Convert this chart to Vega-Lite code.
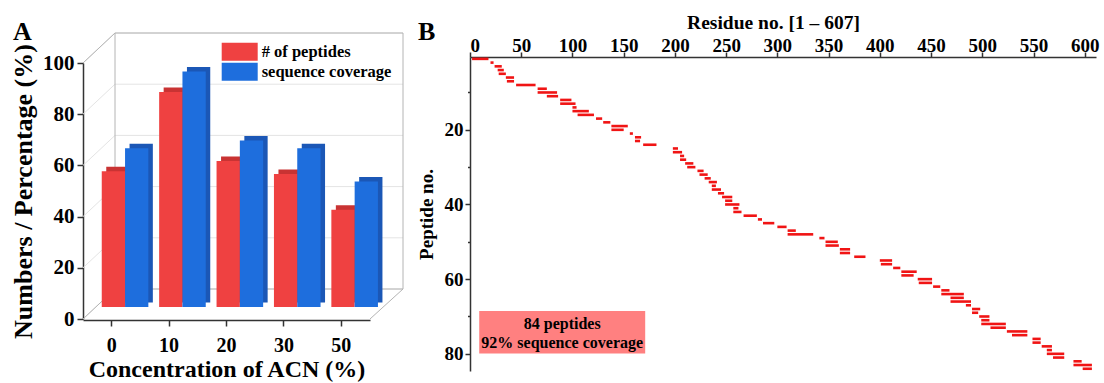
{
  "$schema": "https://vega.github.io/schema/vega-lite/v6.json",
  "autosize": {"type": "none"},
  "padding": {"left": 83, "top": 57, "right": 1021, "bottom": 326},
  "background": "white",
  "datasets": {
    "bars": [
      {"conc": "0", "series": "# of peptides", "value": 53},
      {"conc": "10", "series": "# of peptides", "value": 84},
      {"conc": "20", "series": "# of peptides", "value": 57},
      {"conc": "30", "series": "# of peptides", "value": 52},
      {"conc": "50", "series": "# of peptides", "value": 38},
      {"conc": "0", "series": "sequence coverage", "value": 62},
      {"conc": "10", "series": "sequence coverage", "value": 92},
      {"conc": "20", "series": "sequence coverage", "value": 65},
      {"conc": "30", "series": "sequence coverage", "value": 62},
      {"conc": "50", "series": "sequence coverage", "value": 49}
    ],
    "grid": [{"v": 0}, {"v": 20}, {"v": 40}, {"v": 60}, {"v": 80}, {"v": 100}],
    "peptides": [
      {"pep": 1, "start": 2, "end": 18}, {"pep": 2, "start": 20, "end": 23}, {"pep": 3, "start": 24, "end": 31},
      {"pep": 4, "start": 27, "end": 33}, {"pep": 5, "start": 28, "end": 35}, {"pep": 6, "start": 35, "end": 43},
      {"pep": 7, "start": 36, "end": 43}, {"pep": 8, "start": 45, "end": 64}, {"pep": 9, "start": 66, "end": 75},
      {"pep": 10, "start": 66, "end": 85}, {"pep": 11, "start": 75, "end": 86}, {"pep": 12, "start": 88, "end": 99},
      {"pep": 13, "start": 88, "end": 103}, {"pep": 14, "start": 100, "end": 104}, {"pep": 15, "start": 100, "end": 116},
      {"pep": 16, "start": 105, "end": 121}, {"pep": 17, "start": 123, "end": 129}, {"pep": 18, "start": 130, "end": 137},
      {"pep": 19, "start": 138, "end": 154}, {"pep": 20, "start": 138, "end": 150}, {"pep": 21, "start": 156, "end": 159},
      {"pep": 22, "start": 161, "end": 167}, {"pep": 23, "start": 161, "end": 166}, {"pep": 24, "start": 169, "end": 182},
      {"pep": 25, "start": 198, "end": 203}, {"pep": 26, "start": 198, "end": 207}, {"pep": 27, "start": 205, "end": 209},
      {"pep": 28, "start": 205, "end": 211}, {"pep": 29, "start": 210, "end": 218}, {"pep": 30, "start": 212, "end": 220},
      {"pep": 31, "start": 222, "end": 228}, {"pep": 32, "start": 224, "end": 232}, {"pep": 33, "start": 229, "end": 235},
      {"pep": 34, "start": 233, "end": 241}, {"pep": 35, "start": 236, "end": 240}, {"pep": 36, "start": 236, "end": 245},
      {"pep": 37, "start": 242, "end": 248}, {"pep": 38, "start": 246, "end": 256}, {"pep": 39, "start": 249, "end": 256},
      {"pep": 40, "start": 249, "end": 263}, {"pep": 41, "start": 257, "end": 262}, {"pep": 42, "start": 257, "end": 265},
      {"pep": 43, "start": 267, "end": 280}, {"pep": 44, "start": 281, "end": 285}, {"pep": 45, "start": 286, "end": 297},
      {"pep": 46, "start": 300, "end": 309}, {"pep": 47, "start": 310, "end": 318}, {"pep": 48, "start": 310, "end": 335},
      {"pep": 49, "start": 341, "end": 346}, {"pep": 50, "start": 347, "end": 359}, {"pep": 51, "start": 347, "end": 360},
      {"pep": 52, "start": 361, "end": 371}, {"pep": 53, "start": 361, "end": 371}, {"pep": 54, "start": 375, "end": 386},
      {"pep": 55, "start": 400, "end": 412}, {"pep": 56, "start": 401, "end": 412}, {"pep": 57, "start": 413, "end": 420},
      {"pep": 58, "start": 421, "end": 436}, {"pep": 59, "start": 421, "end": 433}, {"pep": 60, "start": 437, "end": 451},
      {"pep": 61, "start": 438, "end": 451}, {"pep": 62, "start": 452, "end": 459}, {"pep": 63, "start": 460, "end": 468},
      {"pep": 64, "start": 460, "end": 482}, {"pep": 65, "start": 469, "end": 482}, {"pep": 66, "start": 469, "end": 489},
      {"pep": 67, "start": 484, "end": 489}, {"pep": 68, "start": 490, "end": 498}, {"pep": 69, "start": 490, "end": 496},
      {"pep": 70, "start": 497, "end": 507}, {"pep": 71, "start": 499, "end": 507}, {"pep": 72, "start": 499, "end": 523},
      {"pep": 73, "start": 508, "end": 523}, {"pep": 74, "start": 524, "end": 544}, {"pep": 75, "start": 529, "end": 544},
      {"pep": 76, "start": 549, "end": 557}, {"pep": 77, "start": 549, "end": 557}, {"pep": 78, "start": 558, "end": 568},
      {"pep": 79, "start": 563, "end": 568}, {"pep": 80, "start": 563, "end": 580}, {"pep": 81, "start": 569, "end": 580},
      {"pep": 82, "start": 589, "end": 597}, {"pep": 83, "start": 589, "end": 607}, {"pep": 84, "start": 598, "end": 607}
    ]
  },
  "spacing": 100,
  "bounds": "flush",
  "hconcat": [
    {
      "width": 287,
      "height": 263,
      "layer": [
        {
          "layer": [
            {
              "data": {"name": "grid"},
              "mark": {"type": "rule", "color": "#e4e4e4", "strokeWidth": 1, "yOffset": -30},
              "encoding": {
                "x": {"datum": 0.1115, "type": "quantitative", "scale": {"domain": [0, 1], "nice": false, "zero": false}, "axis": null},
                "x2": {"datum": 1.115},
                "y": {"field": "v", "type": "quantitative", "scale": {"domain": [0, 100], "range": [262, 6], "nice": false}}
              }
            },
            {
              "data": {"name": "grid"},
              "mark": {"type": "rule", "color": "#e4e4e4", "strokeWidth": 1, "y2Offset": -30},
              "encoding": {
                "x": {"datum": 0, "type": "quantitative", "axis": null},
                "x2": {"datum": 0.1115},
                "y": {"field": "v", "type": "quantitative"},
                "y2": {"field": "v"}
              }
            },
            {
              "data": {"values": [{}]},
              "mark": {"type": "rule", "color": "#b4b4b4", "strokeWidth": 1, "yOffset": -30, "y2Offset": -30},
              "encoding": {
                "x": {"datum": 0.1115, "type": "quantitative", "axis": null},
                "y": {"datum": 0, "type": "quantitative"},
                "y2": {"datum": 100}
              }
            },
            {
              "data": {"values": [{}]},
              "mark": {"type": "rule", "color": "#b4b4b4", "strokeWidth": 1, "yOffset": -30, "y2Offset": -30},
              "encoding": {
                "x": {"datum": 1.115, "type": "quantitative", "axis": null},
                "y": {"datum": 0, "type": "quantitative"},
                "y2": {"datum": 100}
              }
            },
            {
              "data": {"values": [{}]},
              "mark": {"type": "rule", "color": "#b4b4b4", "strokeWidth": 1, "yOffset": -30},
              "encoding": {
                "x": {"datum": 0.1115, "type": "quantitative", "axis": null},
                "x2": {"datum": 1.115},
                "y": {"datum": 100, "type": "quantitative"}
              }
            },
            {
              "data": {"values": [{}]},
              "mark": {"type": "rule", "color": "#b4b4b4", "strokeWidth": 1, "yOffset": -30},
              "encoding": {
                "x": {"datum": 0.1115, "type": "quantitative", "axis": null},
                "x2": {"datum": 1.115},
                "y": {"datum": 0, "type": "quantitative"}
              }
            },
            {
              "data": {"values": [{}]},
              "mark": {"type": "rule", "color": "#b4b4b4", "strokeWidth": 1, "y2Offset": -30},
              "encoding": {
                "x": {"datum": 0, "type": "quantitative", "axis": null},
                "x2": {"datum": 0.1115},
                "y": {"datum": 100, "type": "quantitative"},
                "y2": {"datum": 100}
              }
            },
            {
              "data": {"values": [{}]},
              "mark": {"type": "rule", "color": "#b4b4b4", "strokeWidth": 1, "y2Offset": -30},
              "encoding": {
                "x": {"datum": 0, "type": "quantitative", "axis": null},
                "x2": {"datum": 0.1115},
                "y": {"datum": 0, "type": "quantitative"},
                "y2": {"datum": 0}
              }
            },
            {
              "data": {"values": [{}]},
              "mark": {"type": "rule", "color": "#b4b4b4", "strokeWidth": 1, "y2Offset": -30},
              "encoding": {
                "x": {"datum": 1, "type": "quantitative", "axis": null},
                "x2": {"datum": 1.115},
                "y": {"datum": 0, "type": "quantitative"},
                "y2": {"datum": 0}
              }
            },
            {
              "data": {"values": [{}]},
              "mark": {"type": "text", "text": "A", "font": "Liberation Serif", "fontWeight": "bold", "fontSize": 26, "align": "left", "baseline": "alphabetic", "color": "#000"},
              "encoding": {
                "x": {"datum": -0.244, "type": "quantitative", "axis": null},
                "y": {"datum": 109, "type": "quantitative"}
              }
            }
          ]
        },
        {
          "data": {"name": "bars"},
          "encoding": {
            "x": {
              "field": "conc", "type": "nominal", "sort": ["0", "10", "20", "30", "50"],
              "scale": {"paddingInner": 0, "paddingOuter": 0},
              "axis": {"title": "Concentration of ACN (%)", "titleFontSize": 24, "labelFontSize": 20, "labelAngle": 0, "tickSize": 6, "labelPadding": 9, "titlePadding": 2}
            },
            "y": {
              "field": "value", "type": "quantitative",
              "scale": {"domain": [0, 100], "range": [262, 6], "nice": false},
              "axis": {
                "title": "Numbers / Percentage (%)", "titleFontSize": 26, "labelFontSize": 21,
                "values": [0, 10, 20, 30, 40, 50, 60, 70, 80, 90, 100],
                "labelExpr": "datum.value % 20 === 0 ? datum.label : ''",
                "tickSize": {"condition": {"test": "datum.value % 20 === 0", "value": 6}, "value": 3.5},
                "labelPadding": 3, "titlePadding": 6
              }
            }
          },
          "layer": [
            {
              "mark": {"type": "bar", "yOffset": -16.5, "y2Offset": -16.5},
              "encoding": {
                "xOffset": {"field": "series", "type": "nominal", "scale": {"paddingInner": 0, "paddingOuter": 0.234, "range": [17.8, 75.3]}},
                "color": {"field": "series", "type": "nominal", "scale": {"domain": ["# of peptides", "sequence coverage"], "range": ["#C93333", "#1B57B6"]}, "legend": null}
              }
            },
            {
              "mark": {"type": "bar", "yOffset": -12, "y2Offset": -12},
              "encoding": {
                "xOffset": {"field": "series", "type": "nominal", "scale": {"paddingInner": 0, "paddingOuter": 0.234, "range": [13.3, 70.8]}},
                "color": {
                  "field": "series", "type": "nominal",
                  "scale": {"domain": ["# of peptides", "sequence coverage"], "range": ["#EF4141", "#1E6EDD"]},
                  "legend": {
                    "orient": "none", "legendX": 147.7, "legendY": -14.3, "title": null, "padding": 0,
                    "symbolType": "M-2,-1H2V1H-2Z", "symbolSize": 324, "symbolStrokeWidth": 0, "symbolOpacity": 1,
                    "labelFont": "Liberation Serif", "labelFontWeight": "bold", "labelFontSize": 16.5, "labelColor": "#000",
                    "labelOffset": 13, "rowPadding": 2
                  }
                }
              }
            }
          ],
          "resolve": {"scale": {"color": "independent", "xOffset": "independent"}}
        }
      ],
      "resolve": {"scale": {"x": "independent"}}
    },
    {
      "width": 626,
      "height": 314,
      "layer": [
        {
          "data": {"values": [{}]},
          "mark": {"type": "rect", "color": "#ff8080"},
          "encoding": {
            "x": {"datum": 9, "type": "quantitative"},
            "x2": {"datum": 171},
            "y": {"datum": 68.5, "type": "quantitative"},
            "y2": {"datum": 79.9}
          }
        },
        {
          "data": {"values": [{}]},
          "mark": {"type": "text", "text": "84 peptides", "font": "Liberation Serif", "fontWeight": "bold", "fontSize": 16, "align": "center", "baseline": "middle", "color": "#000"},
          "encoding": {
            "x": {"datum": 90, "type": "quantitative"},
            "y": {"datum": 71.9, "type": "quantitative"}
          }
        },
        {
          "data": {"values": [{}]},
          "mark": {"type": "text", "text": "92% sequence coverage", "font": "Liberation Serif", "fontWeight": "bold", "fontSize": 16, "align": "center", "baseline": "middle", "color": "#000"},
          "encoding": {
            "x": {"datum": 90, "type": "quantitative"},
            "y": {"datum": 77.2, "type": "quantitative"}
          }
        },
        {
          "data": {"values": [{}]},
          "mark": {"type": "text", "text": "B", "font": "Liberation Serif", "fontWeight": "bold", "fontSize": 26, "align": "left", "baseline": "alphabetic", "color": "#000"},
          "encoding": {
            "x": {"datum": -50.8, "type": "quantitative"},
            "y": {"datum": -4.0, "type": "quantitative"}
          }
        },
        {
          "data": {"name": "peptides"},
          "mark": {"type": "rule", "color": "#f01414", "strokeWidth": 2.6},
          "encoding": {
            "x": {
              "field": "start", "type": "quantitative",
              "scale": {"domain": [0, 611], "nice": false, "zero": false},
              "axis": {
                "orient": "top", "title": "Residue no. [1 – 607]", "titleFontSize": 19.5, "labelFontSize": 19,
                "values": [0, 25, 50, 75, 100, 125, 150, 175, 200, 225, 250, 275, 300, 325, 350, 375, 400, 425, 450, 475, 500, 525, 550, 575, 600],
                "labelExpr": "datum.value % 50 === 0 ? datum.label : ''",
                "tickSize": {"condition": {"test": "datum.value % 50 === 0", "value": 5}, "value": 2.5},
                "labelPadding": -3, "titlePadding": 4, "titleX": 303
              }
            },
            "x2": {"field": "end"},
            "y": {
              "field": "pep", "type": "quantitative",
              "scale": {"domain": [0.5, 84.6], "reverse": true, "nice": false, "zero": false},
              "axis": {
                "title": "Peptide no.", "titleFontSize": 19, "labelFontSize": 19,
                "values": [10, 20, 30, 40, 50, 60, 70, 80],
                "labelExpr": "datum.value % 20 === 0 ? datum.label : ''",
                "tickSize": {"condition": {"test": "datum.value % 20 === 0", "value": 5}, "value": 2.5},
                "labelPadding": 2, "titlePadding": 8
              }
            }
          }
        }
      ]
    }
  ],
  "config": {
    "font": "Liberation Serif",
    "view": {"stroke": null},
    "axis": {
      "labelFont": "Liberation Serif", "labelFontWeight": "bold", "labelColor": "#000",
      "titleFont": "Liberation Serif", "titleFontWeight": "bold", "titleColor": "#000",
      "domainColor": "#333", "tickColor": "#333", "domainWidth": 1.5, "tickWidth": 1.5, "grid": false
    }
  }
}
